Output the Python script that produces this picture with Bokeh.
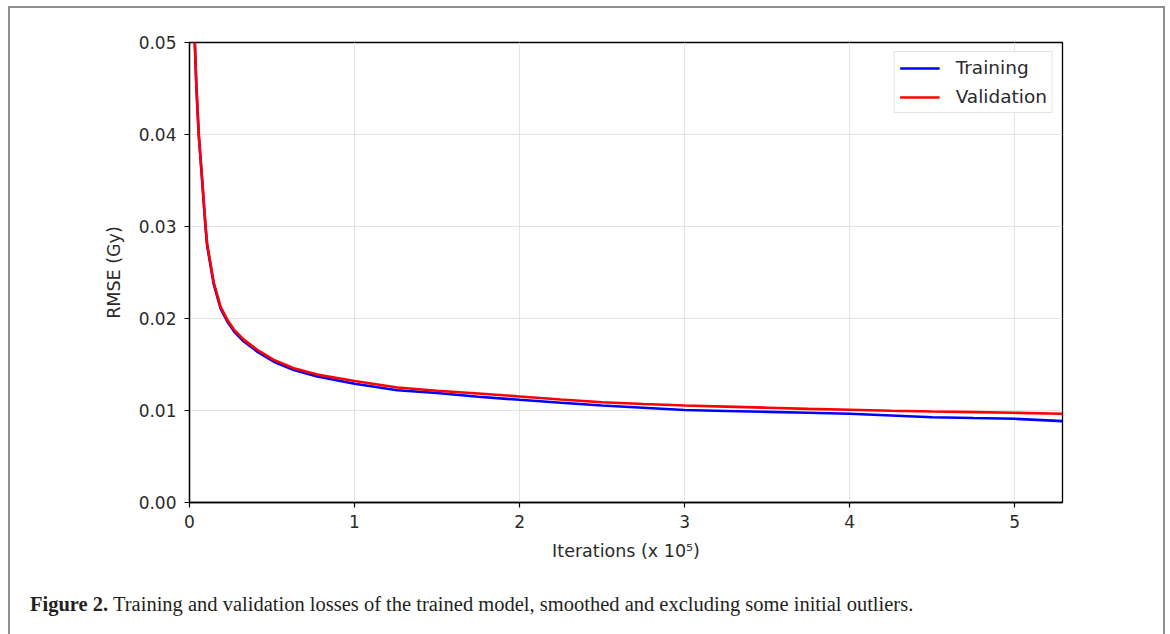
from bokeh.plotting import figure
from bokeh.models import Range1d, FixedTicker, NumeralTickFormatter, Legend, LegendItem, Div
from bokeh.layouts import column
from bokeh.embed import file_html
from bokeh.resources import INLINE

iterations = [0.032, 0.042, 0.056, 0.077, 0.097, 0.107, 0.147, 0.188, 0.228, 0.269,
              0.329, 0.41, 0.511, 0.632, 0.774, 1.0, 1.26, 1.5, 1.75, 2.0, 2.25, 2.5, 2.75,
              3.0, 3.25, 3.5, 3.75, 4.0, 4.25, 4.5, 4.75, 5.0, 5.29]
training = [0.0500, 0.0450, 0.0399, 0.0349, 0.0299, 0.0279, 0.0237, 0.0211, 0.0197, 0.0186,
            0.0175, 0.0164, 0.0153, 0.0144, 0.0137, 0.0129, 0.01220, 0.01190, 0.01150, 0.01116,
            0.01085, 0.01054, 0.01030, 0.01005, 0.00995, 0.00985, 0.00975, 0.00964, 0.00945,
            0.00927, 0.00918, 0.00910, 0.00884]
validation = [0.0501, 0.0452, 0.0401, 0.0351, 0.0301, 0.0281, 0.0239, 0.0213, 0.0199, 0.0188,
              0.0177, 0.0166, 0.0155, 0.0146, 0.0139, 0.0132, 0.01250, 0.01215, 0.01185, 0.01152,
              0.01120, 0.01090, 0.01070, 0.01054, 0.01042, 0.01030, 0.01018, 0.01008, 0.00998,
              0.00989, 0.00982, 0.00975, 0.00964]
x_ticks = [0, 1, 2, 3, 4, 5]
y_ticks = [0.0, 0.01, 0.02, 0.03, 0.04, 0.05]
caption_bold = "Figure 2."
caption_text = " Training and validation losses of the trained model, smoothed and excluding some initial outliers."

FONT = "DejaVu Sans"
TXT = "#2a2a2a"
EDGE = "#8f8f8f"

p = figure(width=1153, height=559, output_backend="svg", toolbar_location=None,
           x_range=Range1d(0, 5.29), y_range=Range1d(0, 0.05),
           min_border_left=179, min_border_right=101, min_border_top=34, min_border_bottom=65)
p.background_fill_color = "white"
p.border_fill_color = "white"
p.outline_line_color = "black"
p.outline_line_width = 1.3
p.styles = {"box-shadow": f"-2px 0 0 0 {EDGE}, 2px 0 0 0 {EDGE}, 0 -2px 0 0 {EDGE}, "
                          f"-2px -2px 0 0 {EDGE}, 2px -2px 0 0 {EDGE}"}

for ax in (p.xaxis[0], p.yaxis[0]):
    ax.axis_line_color = "black"
    ax.axis_line_width = 1.3
    ax.major_tick_line_color = "black"
    ax.major_tick_line_width = 1.2
    ax.major_tick_in = 0
    ax.major_tick_out = 5
    ax.minor_tick_line_color = None
    ax.major_label_text_font = FONT
    ax.major_label_text_font_size = "17px"
    ax.major_label_text_color = TXT
    ax.axis_label_text_font = FONT
    ax.axis_label_text_font_size = "17.5px"
    ax.axis_label_text_font_style = "normal"
    ax.axis_label_text_color = TXT

p.xaxis.ticker = FixedTicker(ticks=x_ticks)
p.yaxis.ticker = FixedTicker(ticks=y_ticks)
p.yaxis.formatter = NumeralTickFormatter(format="0.00")
p.xaxis.axis_label = "Iterations (x 10\u2075)"
p.yaxis.axis_label = "RMSE (Gy)"
p.xaxis.major_label_standoff = 7
p.yaxis.major_label_standoff = 8
p.xaxis.axis_label_standoff = 10
p.yaxis.axis_label_standoff = 12

p.xgrid.ticker = FixedTicker(ticks=x_ticks)
p.ygrid.ticker = FixedTicker(ticks=y_ticks)
p.grid.grid_line_color = "#e3e3e3"
p.grid.grid_line_width = 1

r_tr = p.line(iterations, training, line_color="#0000ff", line_width=2.6)
r_va = p.line(iterations, validation, line_color="#ff0000", line_width=2.6)

legend = Legend(items=[LegendItem(label="Training", renderers=[r_tr]),
                       LegendItem(label="Validation", renderers=[r_va])],
                location="top_right")
legend.label_text_font = FONT
legend.label_text_font_size = "18.5px"
legend.label_text_color = TXT
legend.border_line_color = "#cccccc"
legend.border_line_width = 1
legend.background_fill_alpha = 0.9
legend.glyph_width = 40
legend.label_standoff = 16
legend.padding = 5
legend.spacing = 8
legend.margin = 9
legend.label_height = 20
legend.glyph_height = 20
p.add_layout(legend)

div = Div(text=f"<b>{caption_bold}</b>{caption_text}", width=1153, height=67,
          margin=(0, 0, 0, 0),
          styles={"font-family": "'Liberation Serif', serif", "font-size": "20.5px",
                  "color": "#231f20", "padding-top": "23px", "padding-left": "20px",
                  "white-space": "nowrap",
                  "box-shadow": f"-2px 0 0 0 {EDGE}, 2px 0 0 0 {EDGE}"})

layout = column(p, div, spacing=0, margin=(8, 0, 0, 10))

open("out.html", "w").write(file_html(layout, INLINE))
